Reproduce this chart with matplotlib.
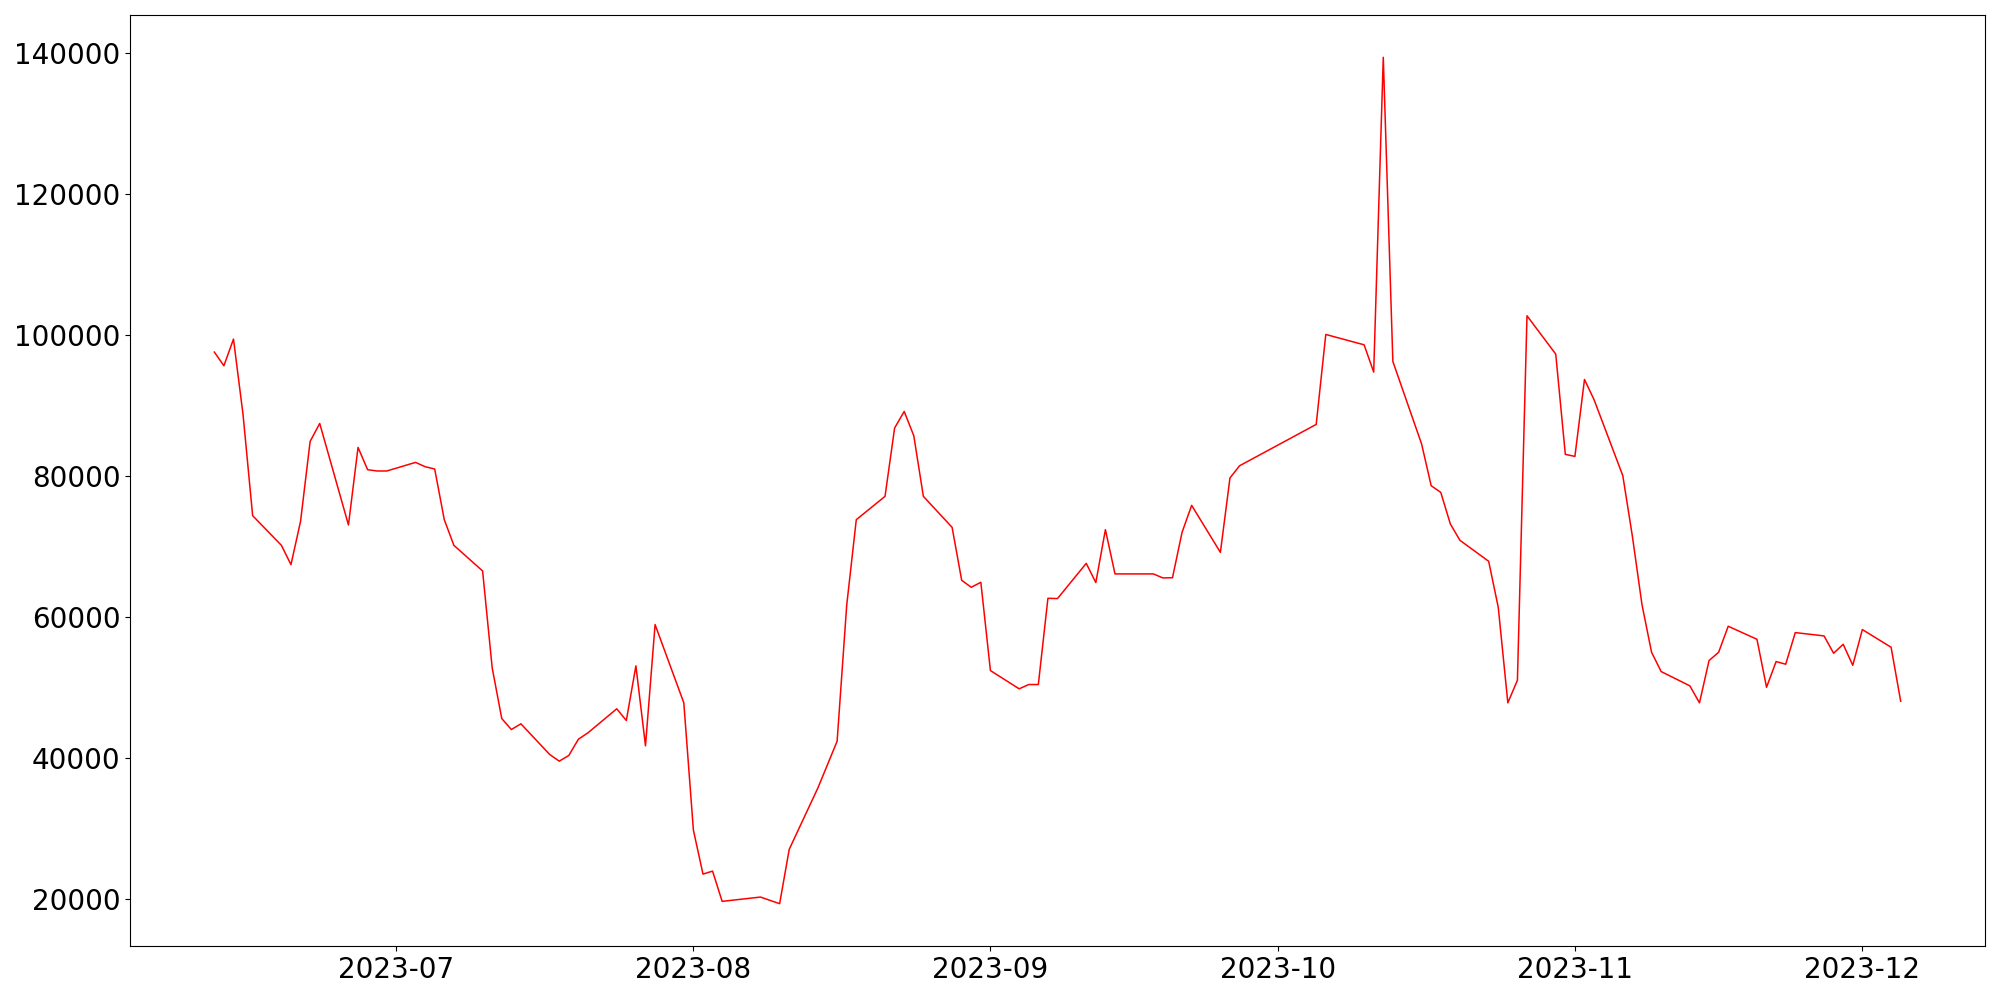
import matplotlib
matplotlib.use("Agg")
import matplotlib.pyplot as plt
import pandas as pd

dates = [
    "2023-06-12", "2023-06-13", "2023-06-14", "2023-06-15", "2023-06-16",
    "2023-06-19", "2023-06-20", "2023-06-21", "2023-06-22", "2023-06-23",
    "2023-06-26", "2023-06-27", "2023-06-28", "2023-06-29", "2023-06-30",
    "2023-07-03", "2023-07-04", "2023-07-05", "2023-07-06", "2023-07-07",
    "2023-07-10", "2023-07-11", "2023-07-12", "2023-07-13", "2023-07-14",
    "2023-07-17", "2023-07-18", "2023-07-19", "2023-07-20", "2023-07-21",
    "2023-07-24", "2023-07-25", "2023-07-26", "2023-07-27", "2023-07-28",
    "2023-07-31", "2023-08-01", "2023-08-02", "2023-08-03", "2023-08-04",
    "2023-08-08", "2023-08-10", "2023-08-11",
    "2023-08-14", "2023-08-16", "2023-08-17", "2023-08-18",
    "2023-08-21", "2023-08-22", "2023-08-23", "2023-08-24", "2023-08-25",
    "2023-08-28", "2023-08-29", "2023-08-30", "2023-08-31", "2023-09-01",
    "2023-09-04", "2023-09-05", "2023-09-06", "2023-09-07", "2023-09-08",
    "2023-09-11", "2023-09-12", "2023-09-13", "2023-09-14",
    "2023-09-18", "2023-09-19", "2023-09-20", "2023-09-21", "2023-09-22",
    "2023-09-25", "2023-09-26", "2023-09-27",
    "2023-10-05", "2023-10-06",
    "2023-10-10", "2023-10-11", "2023-10-12", "2023-10-13",
    "2023-10-16", "2023-10-17", "2023-10-18", "2023-10-19", "2023-10-20",
    "2023-10-23", "2023-10-24", "2023-10-25", "2023-10-26", "2023-10-27",
    "2023-10-30", "2023-10-31", "2023-11-01", "2023-11-02", "2023-11-03",
    "2023-11-06", "2023-11-07", "2023-11-08", "2023-11-09", "2023-11-10",
    "2023-11-13", "2023-11-14", "2023-11-15", "2023-11-16", "2023-11-17",
    "2023-11-20", "2023-11-21", "2023-11-22", "2023-11-23", "2023-11-24",
    "2023-11-27", "2023-11-28", "2023-11-29", "2023-11-30", "2023-12-01",
    "2023-12-04", "2023-12-05",
]

values = [
    97590, 95650, 99430, 88690, 74370,
    70160, 67420, 73560, 84910, 87460,
    73050, 84060, 80890, 80710, 80710,
    81930, 81320, 80990, 73800, 70160,
    66520, 52770, 45570, 44010, 44820,
    40470, 39520, 40330, 42640, 43550,
    46950, 45290, 53050, 41700, 58910,
    47800, 29730, 23490, 23910, 19620,
    20230, 19290, 27000,
    35740, 42350, 61650, 73800,
    77110, 86810, 89160, 85720, 77110,
    72710, 65190, 64200, 64910, 52380,
    49790, 50400, 50400, 62640, 62600,
    67600, 64870, 72380, 66100,
    66100, 65530, 65560, 72000, 75830,
    69160, 79720, 81450,
    87320, 100090,
    98620, 94750, 139430, 96260,
    84540, 78620, 77670, 73190, 70870,
    67890, 61360, 47800, 51010, 102740,
    97300, 83070, 82780, 93700, 90820,
    80040, 71430, 61740, 54980, 52240,
    50210, 47800, 53800, 54980, 58670,
    56820, 50010, 53660, 53280, 57770,
    57300, 54840, 56110, 53130, 58200,
    55690, 48030,
]

x = pd.to_datetime(dates)

fig, ax = plt.subplots(figsize=(20, 10), dpi=100)
ax.plot(x, values, color="red", linewidth=1.1)
ax.tick_params(axis="both", labelsize=20)
fig.subplots_adjust(left=0.065, right=0.9925, top=0.985, bottom=0.054)
fig.savefig("out.png", dpi=100)
